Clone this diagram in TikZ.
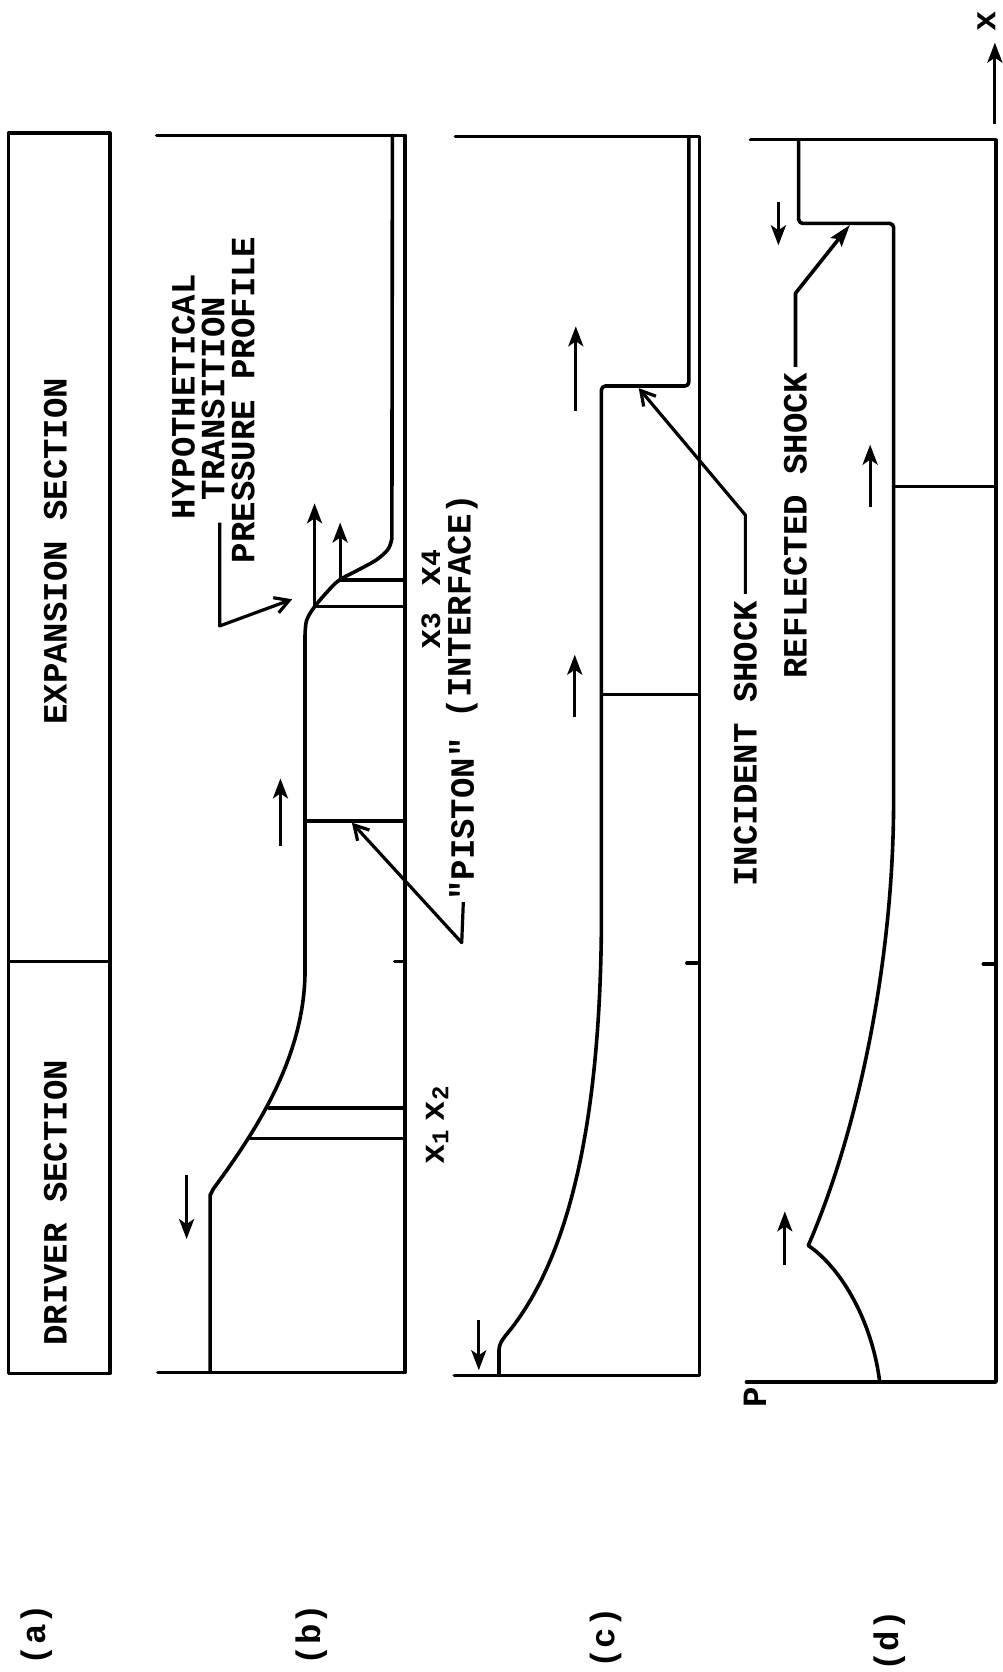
\documentclass[tikz,border=0pt]{standalone}
\usepackage{fontspec}
\setmonofont{Liberation Mono}
\usetikzlibrary{arrows.meta}
\newcommand{\tfont}{\fontsize{17}{20}\selectfont\ttfamily\bfseries}
\tikzset{
  prof/.style={line width=1.8pt, line cap=round, line join=round},
  thin line/.style={line width=1.6pt, line cap=round},
  lbl/.style={rotate=90, inner sep=0pt, font=\tfont},
  uparr/.style={line width=1.6pt, -{Stealth[length=10pt,width=7.5pt,inset=2.5pt]}},
  leadopen/.style={line width=1.6pt, line join=round, -{Straight Barb[length=7pt,width=8pt]}},
  leadfill/.style={line width=1.8pt, line join=round, -{Stealth[length=11pt,width=7pt,inset=2pt]}}
}
\begin{document}
\begin{tikzpicture}[x=0.533pt,y=-0.533pt]
\useasboundingbox (0,0) rectangle (940,1568);
\fill[white] (0,0) rectangle (940,1568);

% ---------------- panel (a)
\draw[prof] (8,125) rectangle (103,1288);
\draw[thin line] (8,902) -- (103,902);
\node[lbl] (driver) at (52,1128) {DRIVER SECTION};
\node[lbl] (expansion) at (52,517) {EXPANSION SECTION};

% ---------------- panel (b)
\draw[prof] (147,127) -- (380,127) -- (380,1287) -- (148,1287);
\draw[prof] (197,1287) -- (197,1121) -- (200,1115)
  .. controls (242,1058) and (284,992) .. (286,915)
  -- (286,598) -- plot[smooth,tension=0.55] coordinates
  {(286,598) (287.5,582) (295,569) (309.6,552) (319,543.5) (335,535) (353,525) (364,515) (367.5,505)}
  -- (368,127);
\draw[thin line] (234.5,1068) -- (380,1068);
\draw[thin line] (252,1039) -- (380,1039);
\draw[thin line] (286,770) -- (380,770);
\draw[thin line] (295,569) -- (380,569);
\draw[thin line] (319,544) -- (380,544);
\draw[thin line] (370,902) -- (380,902);

\coordinate (bA1) at (175,1102); \coordinate (bA1e) at (175,1162);
\draw[uparr] (bA1) -- (bA1e);
\coordinate (bA2) at (263,793); \coordinate (bA2e) at (263,730);
\draw[uparr] (bA2) -- (bA2e);
\coordinate (bA3) at (295,569); \coordinate (bA3e) at (295,472);
\draw[uparr] (bA3) -- (bA3e);
\coordinate (bA4) at (319,544); \coordinate (bA4e) at (319,490);
\draw[uparr] (bA4) -- (bA4e);

\node[lbl] (hyp) at (172,372) {HYPOTHETICAL};
\node[lbl] (trans) at (200,374) {TRANSITION};
\node[lbl] (press) at (228,375) {PRESSURE PROFILE};
\coordinate (hypL1) at (206,490); \coordinate (hypL2) at (206,587); \coordinate (hypT) at (274,562);
\draw[leadopen] (hypL1) -- (hypL2) -- (hypT);

\node[lbl, anchor=west] (piston) at (433,845) {"PISTON"};
\node[lbl, anchor=west] (interface) at (433,674) {(INTERFACE)};
\coordinate (pisL1) at (434.5,846); \coordinate (pisL2) at (433,884); \coordinate (pisT) at (330,771.5);
\draw[leadopen] (pisL1) -- (pisL2) -- (pisT);

\node[lbl] (x1) at (410,1076) {x{\fontsize{12}{12}\selectfont\raisebox{-0.35ex}{1}}};
\node[lbl] (x2) at (410,1035) {x{\fontsize{12}{12}\selectfont\raisebox{-0.35ex}{2}}};
\node[lbl] (x3) at (404,592) {x{\fontsize{14}{14}\selectfont 3}};
\node[lbl] (x4) at (404,533) {x{\fontsize{14}{14}\selectfont 4}};

% ---------------- panel (c)
\draw[prof] (427,128) -- (656,128) -- (656,1290) -- (426,1290);
\draw[prof, rounded corners=2pt] (468,1290) -- (468,1262) -- (472,1255)
  .. controls (535,1180) and (562,1050) .. (564,870)
  -- (564,362) -- (646,362) -- (646,128);
\draw[thin line] (564,651) -- (656,651);
\draw[thin line] (644,903) -- (656,903);

\coordinate (cA1) at (540,385); \coordinate (cA1e) at (540,306);
\draw[uparr] (cA1) -- (cA1e);
\coordinate (cA2) at (539,672); \coordinate (cA2e) at (539,614);
\draw[uparr] (cA2) -- (cA2e);
\coordinate (cA3) at (449,1238); \coordinate (cA3e) at (449,1285);
\draw[uparr] (cA3) -- (cA3e);

\node[lbl, anchor=east] (incident) at (699,563) {INCIDENT SHOCK};
\coordinate (incL1) at (699,557); \coordinate (incL2) at (699,483); \coordinate (incT) at (599,364);
\draw[leadopen] (incL1) -- (incL2) -- (incT);

% ---------------- panel (d)
\draw[prof] (704,131) -- (934,131) -- (934,1296) -- (700,1296);
\draw[prof, rounded corners=2pt] (749,131) -- (749,209.5) -- (838,209.5) -- (838,748)
  .. controls (838,900) and (805,1060) .. (758,1168);
\draw[prof] (758,1168) .. controls (790,1190) and (818,1240) .. (825,1296);
\draw[thin line] (838,456) -- (934,456);
\draw[thin line] (922,904) -- (934,904);

\coordinate (dA1) at (730,189); \coordinate (dA1e) at (730,230);
\draw[uparr] (dA1) -- (dA1e);
\coordinate (dA2) at (816,475); \coordinate (dA2e) at (816,417);
\draw[uparr] (dA2) -- (dA2e);
\coordinate (dA3) at (736,1186); \coordinate (dA3e) at (736,1136);
\draw[uparr] (dA3) -- (dA3e);

\node[lbl, anchor=east] (reflected) at (746,349) {REFLECTED SHOCK};
\coordinate (refL1) at (746,344); \coordinate (refL2) at (746,275); \coordinate (refT) at (797,211);
\draw[leadfill] (refL1) -- (refL2) -- (refT);

\node[lbl] (P) at (708,1310) {P};
\coordinate (xaxS) at (933,116); \coordinate (xaxE) at (933,40);
\draw[uparr] (xaxS) -- (xaxE);
\node[lbl] (xlab) at (925,20) {x};

% ---------------- panel labels
\node[lbl] (la) at (34,1533) {(a)};
\node[lbl] (lb) at (292,1533) {(b)};
\node[lbl] (lc) at (568,1536) {(c)};
\node[lbl] (ld) at (834,1539) {(d)};
\end{tikzpicture}
\end{document}
